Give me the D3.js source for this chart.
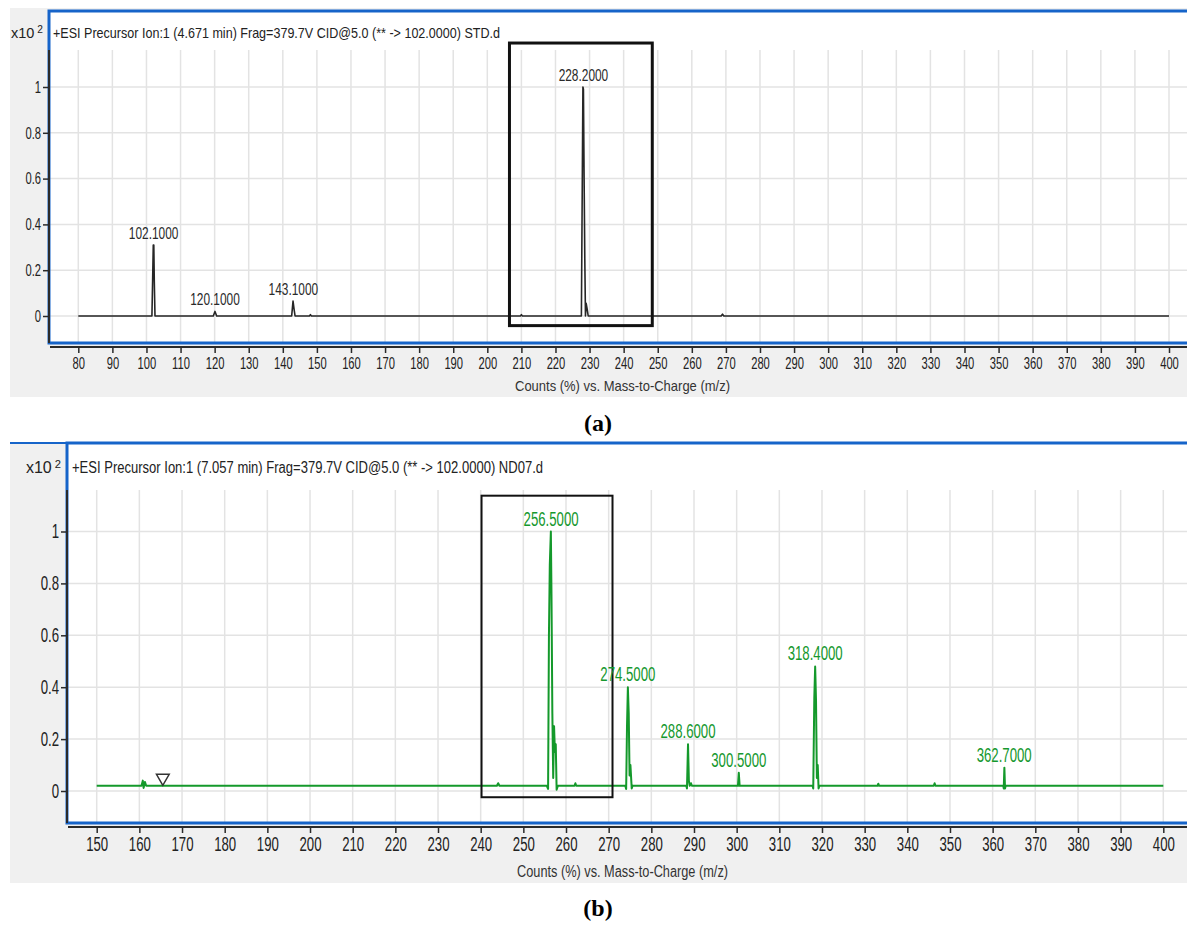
<!DOCTYPE html>
<html><head><meta charset="utf-8">
<script src="https://cdn.jsdelivr.net/npm/d3@7"></script>
<style>html,body{margin:0;padding:0;background:#fff;} svg{display:block;}</style>
</head><body>
<svg id="c" width="1187" height="926"></svg>
<script>
// ---------------- DATA ----------------
// Panel (a): STD.d spectrum (x10^2 counts vs m/z)
const titleA = "+ESI Precursor Ion:1 (4.671 min) Frag=379.7V CID@5.0 (** -> 102.0000) STD.d";
const mzA  = [80,101.6,101.8,102.0,102.15,102.3,102.5,119.6,120.1,120.6,142.6,143.0,143.3,143.6,147.8,148.1,148.4,209.7,210.0,210.3,227.6,227.85,228.05,228.2,228.4,228.6,228.8,229.0,229.3,229.6,268.6,269.0,269.4,400];
const intA = [0,0,0.15,0.31,0.31,0.15,0,0,0.02,0,0,0.065,0.03,0,0,0.006,0,0,0.006,0,0,0.55,1.0,0.99,0.6,0.25,0,0.055,0.03,0,0,0.008,0,0];
const xTicksA = [80,90,100,110,120,130,140,150,160,170,180,190,200,210,220,230,240,250,260,270,280,290,300,310,320,330,340,350,360,370,380,390,400];
const yTicksA = [0,0.2,0.4,0.6,0.8,1];
const yTickLabelsA = ["0","0.2","0.4","0.6","0.8","1"];
const peakMzA = [102.1,120.1,143.1,228.2];
const peakTopA = [0.31,0.02,0.065,1.0];
const peakTextA = ["102.1000","120.1000","143.1000","228.2000"];
const boxA = [206.5,248.4,-0.042,1.192]; // x0,x1,y0,y1 in data units

// Panel (b): ND07.d spectrum
const titleB = "+ESI Precursor Ion:1 (7.057 min) Frag=379.7V CID@5.0 (** -> 102.0000) ND07.d";
const mzB  = [150,160.5,160.8,161.0,161.3,161.6,243.8,244.1,244.4,255.5,255.8,256.0,256.2,256.45,256.6,256.8,257.0,257.2,257.4,257.6,257.8,258.1,262.0,262.2,262.4,273.9,274.1,274.3,274.5,274.7,274.9,275.1,275.4,275.6,288.2,288.35,288.6,288.8,289.0,289.3,289.5,300.3,300.5,300.7,317.8,317.95,318.2,318.4,318.6,318.8,319.0,319.2,319.4,333.0,333.2,333.4,346.2,346.4,346.6,362.5,362.6,362.75,362.9,363.05,400];
const intB = [0.02,0.02,0.04,0.012,0.035,0.02,0.02,0.03,0.02,0.02,0.008,0.6,0.87,1.0,0.75,0.3,0.05,0.25,0.15,0.18,0.005,0.02,0.02,0.03,0.02,0.02,0.008,0.25,0.4,0.3,0.06,0.1,0.01,0.02,0.02,0.01,0.18,0.04,0.02,0.03,0.02,0.02,0.07,0.02,0.02,0.01,0.36,0.48,0.35,0.05,0.1,0.01,0.02,0.02,0.028,0.02,0.02,0.03,0.02,0.02,0.01,0.09,0.01,0.02,0.02];
const xTicksB = [150,160,170,180,190,200,210,220,230,240,250,260,270,280,290,300,310,320,330,340,350,360,370,380,390,400];
const yTicksB = [0,0.2,0.4,0.6,0.8,1];
const yTickLabelsB = ["0","0.2","0.4","0.6","0.8","1"];
const peakMzB = [256.5,274.5,288.6,300.5,318.4,362.7];
const peakTopB = [1.0,0.4,0.18,0.07,0.48,0.09];
const peakTextB = ["256.5000","274.5000","288.6000","300.5000","318.4000","362.7000"];
const boxB = [240.2,270.9,-0.024,1.138];
const markerB = [165.5,0.05];

const xLabel = "Counts (%) vs. Mass-to-Charge (m/z)";
const captions = ["(a)","(b)"];

// ---------------- LAYOUT ----------------
const W = 1187;
const svg = d3.select("#c");
const FONT = "'Liberation Sans', Arial, sans-serif";
const BLUE = "#1664c9";

function sText(g, x, y, str, size, sx, anchor, color){
  return g.append("g").attr("transform", `translate(${x},${y}) scale(${sx},1)`)
    .append("text").attr("x",0).attr("y",0)
    .attr("font-family",FONT).attr("font-size",size)
    .attr("text-anchor",anchor).attr("fill",color).text(str);
}

function drawPanel(L, D){
  const g = svg.append("g");
  const x = d3.scaleLinear().domain(D.xDom).range(L.xr);
  const y = d3.scaleLinear().domain([0,1]).range(L.yr);

  g.append("rect").attr("x",10).attr("y",L.bgY).attr("width",W-10).attr("height",L.bgH).attr("fill","#f0f0f0");
  g.append("rect").attr("x",L.px).attr("y",L.py).attr("width",W-L.px+5).attr("height",L.pb-L.py).attr("fill","#fff");

  // grid
  g.append("g").selectAll("line").data(D.xTicks).join("line")
    .attr("x1",d=>x(d)).attr("x2",d=>x(d)).attr("y1",L.axisTop).attr("y2",L.pb)
    .attr("stroke","#e3e3e3").attr("stroke-width",1.5);
  g.append("g").selectAll("line").data(D.yTicks).join("line")
    .attr("x1",L.px).attr("x2",W).attr("y1",d=>y(d)).attr("y2",d=>y(d))
    .attr("stroke","#e3e3e3").attr("stroke-width",1.5);

  // spectrum
  const pts = D.mz.map((m,i)=>[m,D.inten[i]]);
  g.append("path").datum(pts)
    .attr("d", d3.line().x(d=>x(d[0])).y(d=>y(d[1])))
    .attr("fill","none").attr("stroke",D.color).attr("stroke-width",L.lw).attr("stroke-linejoin","round");

  // highlight box
  g.append("rect").attr("x",x(D.box[0])).attr("y",y(D.box[3]))
    .attr("width",x(D.box[1])-x(D.box[0])).attr("height",y(D.box[2])-y(D.box[3]))
    .attr("fill","none").attr("stroke","#111").attr("stroke-width",L.boxW);

  // peak labels
  D.peakMz.forEach((m,i)=>{
    sText(g, x(m), y(D.peakTop[i]) - L.labGap, D.peakText[i], L.labSize, L.labSX, "middle", D.labColor);
  });

  if (D.marker){
    g.append("path").attr("transform",`translate(${x(D.marker[0])},${y(D.marker[1])}) rotate(180)`)
      .attr("d", d3.symbol(d3.symbolTriangle, 70)())
      .attr("fill","#fff").attr("stroke","#333").attr("stroke-width",1.5);
  }

  // blue frame
  g.append("path").attr("d",`M${W+5},${L.py} H${L.px} V${L.pb} H${W+5}`)
    .attr("fill","none").attr("stroke",BLUE).attr("stroke-width",3);
  if (L.topLineFull){
    g.append("line").attr("x1",10).attr("x2",L.px).attr("y1",L.py).attr("y2",L.py)
      .attr("stroke",BLUE).attr("stroke-width",2);
  }
  // dark axis lines
  g.append("line").attr("x1",L.px).attr("x2",L.px).attr("y1",L.axisTop).attr("y2",L.pb)
    .attr("stroke","#2a2a2a").attr("stroke-width",2);
  g.append("line").attr("x1",L.px+1).attr("x2",W).attr("y1",L.pb+4).attr("y2",L.pb+4)
    .attr("stroke","#2a2a2a").attr("stroke-width",2);

  // x axis ticks
  const ax = g.append("g").attr("transform",`translate(0,${L.pb+4})`)
    .call(d3.axisBottom(x).tickValues(D.xTicks).tickFormat(d3.format("d")).tickSize(6).tickSizeOuter(0));
  ax.select(".domain").remove();
  ax.selectAll("line").attr("stroke","#2a2a2a").attr("stroke-width",1.5);
  ax.selectAll("text").attr("font-family",FONT).attr("font-size",L.tickSize).attr("fill","#222")
    .attr("y",L.tickPad).attr("transform",`scale(${L.tickSX},1)`);

  // y axis ticks
  const ay = g.append("g").attr("transform",`translate(${L.px},0)`)
    .call(d3.axisLeft(y).tickValues(D.yTicks).tickFormat((d,i)=>D.yTickLabels[i]).tickSize(6).tickSizeOuter(0));
  ay.select(".domain").remove();
  ay.selectAll("line").attr("stroke","#2a2a2a").attr("stroke-width",1.5);
  ay.selectAll("text").attr("font-family",FONT).attr("font-size",L.tickSize).attr("fill","#222")
    .attr("x",-8/L.tickSX).attr("transform",`scale(${L.tickSX},1)`);

  // title
  g.append("text").attr("x",L.titleX).attr("y",L.titleY).attr("font-family",FONT)
    .attr("font-size",L.titleSize).attr("fill","#222")
    .attr("textLength",L.titleLen).attr("lengthAdjust","spacingAndGlyphs").text(D.title);
  // x10^2
  const mt = g.append("text").attr("x",L.multX).attr("y",L.titleY).attr("font-family",FONT)
    .attr("font-size",L.titleSize).attr("fill","#222").attr("text-anchor","end");
  mt.append("tspan").text("x10");
  mt.append("tspan").attr("dx",3).attr("dy",-5).attr("font-size",L.titleSize*0.7).text("2");
  // x label
  g.append("text").attr("x",L.xlabX).attr("y",L.xlabY).attr("font-family",FONT)
    .attr("font-size",L.xlabSize).attr("fill","#333")
    .attr("textLength",L.xlabLen).attr("lengthAdjust","spacingAndGlyphs").text(xLabel);
  // caption
  g.append("text").attr("x",598).attr("y",L.capY).attr("font-family","'Liberation Serif','Times New Roman',serif")
    .attr("font-size",24).attr("font-weight","bold").attr("text-anchor","middle").attr("fill","#000").text(D.caption);
}

drawPanel(
  {bgY:8,bgH:389,px:49,py:11,pb:343,axisTop:50,xr:[78.3,1169],yr:[316,87],lw:1.6,boxW:3,
   labGap:6,labSize:17,labSX:0.7,tickSize:16.5,tickSX:0.68,tickPad:10,
   titleX:53,titleY:38,titleSize:14.5,titleLen:447,multX:43,
   xlabX:515,xlabY:391,xlabSize:15,xlabLen:215,capY:431,topLineFull:false},
  {xDom:[80,400],mz:mzA,inten:intA,xTicks:xTicksA,yTicks:yTicksA,yTickLabels:yTickLabelsA,
   peakMz:peakMzA,peakTop:peakTopA,peakText:peakTextA,box:boxA,color:"#262626",labColor:"#2a2a2a",
   title:titleA,caption:captions[0]}
);
drawPanel(
  {bgY:443,bgH:440,px:67,py:443,pb:823,axisTop:490,xr:[96.7,1163.3],yr:[791,531.5],lw:2,boxW:2,
   labGap:6,labSize:20,labSX:0.66,tickSize:20,tickSX:0.66,tickPad:10,
   titleX:72,titleY:473,titleSize:16,titleLen:471,multX:61,
   xlabX:517,xlabY:877,xlabSize:16,xlabLen:211,capY:916,topLineFull:true},
  {xDom:[150,400],mz:mzB,inten:intB,xTicks:xTicksB,yTicks:yTicksB,yTickLabels:yTickLabelsB,
   peakMz:peakMzB,peakTop:peakTopB,peakText:peakTextB,box:boxB,color:"#14992b",labColor:"#16982e",
   title:titleB,caption:captions[1],marker:markerB}
);
</script>
</body></html>
